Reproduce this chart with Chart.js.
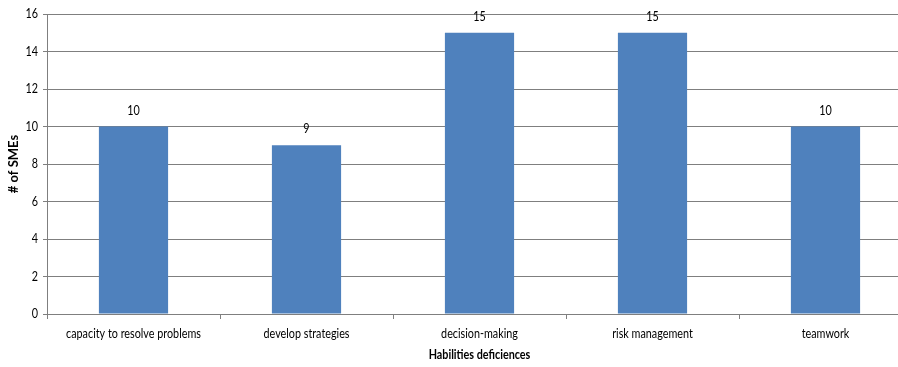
<!DOCTYPE html>
<html>
<head>
<meta charset="utf-8">
<script src="https://cdn.jsdelivr.net/npm/chart.js@4.4.1/dist/chart.umd.min.js"></script>
<style>
  html, body { margin: 0; padding: 0; background: #fff; overflow: hidden; }
  #wrap { width: 912px; height: 367px; position: relative; }
</style>
</head>
<body>
<div id="wrap"><canvas id="c"></canvas></div>
<script>
// Skill gaps reported by SMEs
const categories = ['capacity to resolve problems', 'develop strategies', 'decision-making', 'risk management', 'teamwork'];
const smeCounts = [10, 9, 15, 15, 10];
const yTicks = [0, 2, 4, 6, 8, 10, 12, 14, 16];
const xTitle = 'Habilities deficiences';
const yTitle = '# of SMEs';

const FONT = "Lato, sans-serif";
const FONT_SIZE = 13;
const SQUEEZE = 0.83;   // narrow the glyphs horizontally
const LINE = '#7f7f7f';

function squeezedText(ctx, text, x, y, align, font) {
  ctx.save();
  ctx.font = font;
  ctx.textAlign = align;
  ctx.textBaseline = 'middle';
  ctx.translate(x, y);
  ctx.scale(SQUEEZE, 1);
  ctx.fillText(text, 0, 0);
  ctx.restore();
}

// tick labels, value labels above each bar, and both axis titles
const annotate = {
  id: 'annotate',
  afterDraw(chart) {
    const ctx = chart.ctx;
    const area = chart.chartArea;
    const xs = chart.scales.x, ys = chart.scales.y;
    const normal = FONT_SIZE + 'px ' + FONT;
    const bold = 'bold ' + FONT_SIZE + 'px ' + FONT;
    ctx.save();
    ctx.fillStyle = '#000';

    xs.ticks.forEach((t, i) => {
      squeezedText(ctx, categories[i], xs.getPixelForTick(i), 334, 'center', normal);
    });
    ys.ticks.forEach((t, i) => {
      squeezedText(ctx, String(t.value), area.left - 9, ys.getPixelForValue(t.value), 'right', normal);
    });

    const meta = chart.getDatasetMeta(0);
    meta.data.forEach((bar, i) => {
      squeezedText(ctx, String(smeCounts[i]), bar.x, bar.y - 16, 'center', normal);
    });

    squeezedText(ctx, xTitle, (area.left + area.right) / 2, 355, 'center', bold);
    ctx.translate(14, (area.top + area.bottom) / 2);
    ctx.rotate(-Math.PI / 2);
    ctx.font = bold;
    ctx.textAlign = 'center';
    ctx.textBaseline = 'middle';
    ctx.fillText(yTitle, 0, 0);
    ctx.restore();
  }
};

new Chart(document.getElementById('c'), {
  type: 'bar',
  data: {
    labels: categories,
    datasets: [{
      data: smeCounts,
      backgroundColor: '#4F81BD',
      borderWidth: 0,
      categoryPercentage: 0.4,
      barPercentage: 1.0
    }]
  },
  options: {
    responsive: true,
    maintainAspectRatio: false,
    animation: false,
    layout: { padding: { top: 14, right: 0, bottom: 0, left: 0 } },
    plugins: { legend: { display: false }, tooltip: { enabled: false } },
    scales: {
      x: {
        offset: true,
        grid: { offset: true, drawOnChartArea: false, drawTicks: true, tickLength: 5, color: LINE },
        border: { display: true, color: LINE, width: 1 },
        ticks: { color: 'rgba(0,0,0,0)', font: { family: FONT, size: FONT_SIZE }, padding: 8, maxRotation: 0, autoSkip: false },
        afterFit(scale) { scale.height = 53; }
      },
      y: {
        min: 0,
        max: 16,
        afterBuildTicks(scale) { scale.ticks = yTicks.map(v => ({ value: v })); },
        grid: { color: LINE, tickLength: 4, drawTicks: true },
        border: { display: true, color: LINE, width: 1 },
        ticks: { color: 'rgba(0,0,0,0)', font: { family: FONT, size: FONT_SIZE }, padding: 5 },
        afterFit(scale) { scale.width = 47; }
      }
    }
  },
  plugins: [annotate]
});
</script>
</body>
</html>
